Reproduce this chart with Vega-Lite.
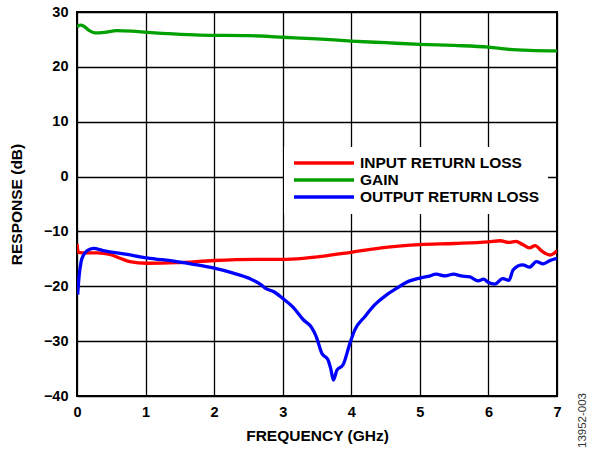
{
  "$schema": "https://vega.github.io/schema/vega-lite/v6.json",
  "width": 480,
  "height": 384,
  "autosize": "none",
  "padding": {"left": 77, "top": 12, "right": 37, "bottom": 55},
  "background": "white",
  "title": {"text": "13952-003", "orient": "right", "anchor": "end", "frame": "group", "angle": -90, "align": "right", "dx": 3, "fontSize": 11.5, "fontWeight": "normal", "font": "Liberation Sans", "color": "#333333", "offset": 4},
  "config": {
    "view": {"stroke": "black", "strokeWidth": 2},
    "font": "Liberation Sans"
  },
  "data": {"values": [
    {"f": 0.0, "s": "GAIN", "v": 27.3},
    {"f": 0.05, "s": "GAIN", "v": 27.6},
    {"f": 0.1, "s": "GAIN", "v": 27.4},
    {"f": 0.18, "s": "GAIN", "v": 26.6},
    {"f": 0.26, "s": "GAIN", "v": 26.2},
    {"f": 0.4, "s": "GAIN", "v": 26.3},
    {"f": 0.58, "s": "GAIN", "v": 26.6},
    {"f": 0.8, "s": "GAIN", "v": 26.5},
    {"f": 1.02, "s": "GAIN", "v": 26.3},
    {"f": 1.4, "s": "GAIN", "v": 26.0},
    {"f": 1.8, "s": "GAIN", "v": 25.8},
    {"f": 2.5, "s": "GAIN", "v": 25.7},
    {"f": 3.0, "s": "GAIN", "v": 25.4},
    {"f": 3.5, "s": "GAIN", "v": 25.1},
    {"f": 4.0, "s": "GAIN", "v": 24.7},
    {"f": 4.5, "s": "GAIN", "v": 24.4},
    {"f": 5.0, "s": "GAIN", "v": 24.1},
    {"f": 5.5, "s": "GAIN", "v": 23.9},
    {"f": 6.0, "s": "GAIN", "v": 23.6},
    {"f": 6.3, "s": "GAIN", "v": 23.2},
    {"f": 6.6, "s": "GAIN", "v": 23.0},
    {"f": 7.0, "s": "GAIN", "v": 22.9},

    {"f": 0.0, "s": "INPUT RETURN LOSS", "v": -12.3},
    {"f": 0.02, "s": "INPUT RETURN LOSS", "v": -13.8},
    {"f": 0.14, "s": "INPUT RETURN LOSS", "v": -13.9},
    {"f": 0.3, "s": "INPUT RETURN LOSS", "v": -13.9},
    {"f": 0.48, "s": "INPUT RETURN LOSS", "v": -14.2},
    {"f": 0.63, "s": "INPUT RETURN LOSS", "v": -14.9},
    {"f": 0.77, "s": "INPUT RETURN LOSS", "v": -15.5},
    {"f": 1.02, "s": "INPUT RETURN LOSS", "v": -15.8},
    {"f": 1.45, "s": "INPUT RETURN LOSS", "v": -15.7},
    {"f": 2.0, "s": "INPUT RETURN LOSS", "v": -15.3},
    {"f": 2.67, "s": "INPUT RETURN LOSS", "v": -15.1},
    {"f": 3.0, "s": "INPUT RETURN LOSS", "v": -15.1},
    {"f": 3.3, "s": "INPUT RETURN LOSS", "v": -14.9},
    {"f": 3.6, "s": "INPUT RETURN LOSS", "v": -14.5},
    {"f": 4.0, "s": "INPUT RETURN LOSS", "v": -13.8},
    {"f": 4.5, "s": "INPUT RETURN LOSS", "v": -12.9},
    {"f": 5.0, "s": "INPUT RETURN LOSS", "v": -12.4},
    {"f": 5.5, "s": "INPUT RETURN LOSS", "v": -12.2},
    {"f": 6.0, "s": "INPUT RETURN LOSS", "v": -11.9},
    {"f": 6.17, "s": "INPUT RETURN LOSS", "v": -11.7},
    {"f": 6.3, "s": "INPUT RETURN LOSS", "v": -12.0},
    {"f": 6.4, "s": "INPUT RETURN LOSS", "v": -11.8},
    {"f": 6.5, "s": "INPUT RETURN LOSS", "v": -12.4},
    {"f": 6.6, "s": "INPUT RETURN LOSS", "v": -13.0},
    {"f": 6.68, "s": "INPUT RETURN LOSS", "v": -12.6},
    {"f": 6.78, "s": "INPUT RETURN LOSS", "v": -13.6},
    {"f": 6.9, "s": "INPUT RETURN LOSS", "v": -14.3},
    {"f": 7.0, "s": "INPUT RETURN LOSS", "v": -13.5},

    {"f": 0.01, "s": "OUTPUT RETURN LOSS", "v": -21.5},
    {"f": 0.03, "s": "OUTPUT RETURN LOSS", "v": -18.2},
    {"f": 0.06, "s": "OUTPUT RETURN LOSS", "v": -15.5},
    {"f": 0.1, "s": "OUTPUT RETURN LOSS", "v": -14.2},
    {"f": 0.15, "s": "OUTPUT RETURN LOSS", "v": -13.5},
    {"f": 0.24, "s": "OUTPUT RETURN LOSS", "v": -13.1},
    {"f": 0.38, "s": "OUTPUT RETURN LOSS", "v": -13.5},
    {"f": 0.73, "s": "OUTPUT RETURN LOSS", "v": -14.2},
    {"f": 1.02, "s": "OUTPUT RETURN LOSS", "v": -14.8},
    {"f": 1.45, "s": "OUTPUT RETURN LOSS", "v": -15.5},
    {"f": 1.7, "s": "OUTPUT RETURN LOSS", "v": -16.0},
    {"f": 2.0, "s": "OUTPUT RETURN LOSS", "v": -16.7},
    {"f": 2.28, "s": "OUTPUT RETURN LOSS", "v": -17.6},
    {"f": 2.52, "s": "OUTPUT RETURN LOSS", "v": -18.6},
    {"f": 2.67, "s": "OUTPUT RETURN LOSS", "v": -19.6},
    {"f": 2.75, "s": "OUTPUT RETURN LOSS", "v": -20.4},
    {"f": 2.87, "s": "OUTPUT RETURN LOSS", "v": -21.0},
    {"f": 3.0, "s": "OUTPUT RETURN LOSS", "v": -22.2},
    {"f": 3.15, "s": "OUTPUT RETURN LOSS", "v": -23.8},
    {"f": 3.3, "s": "OUTPUT RETURN LOSS", "v": -26.1},
    {"f": 3.42, "s": "OUTPUT RETURN LOSS", "v": -27.5},
    {"f": 3.49, "s": "OUTPUT RETURN LOSS", "v": -29.2},
    {"f": 3.57, "s": "OUTPUT RETURN LOSS", "v": -32.2},
    {"f": 3.66, "s": "OUTPUT RETURN LOSS", "v": -33.4},
    {"f": 3.7, "s": "OUTPUT RETURN LOSS", "v": -35.0},
    {"f": 3.74, "s": "OUTPUT RETURN LOSS", "v": -37.1},
    {"f": 3.79, "s": "OUTPUT RETURN LOSS", "v": -35.3},
    {"f": 3.88, "s": "OUTPUT RETURN LOSS", "v": -34.3},
    {"f": 3.98, "s": "OUTPUT RETURN LOSS", "v": -30.4},
    {"f": 4.05, "s": "OUTPUT RETURN LOSS", "v": -28.0},
    {"f": 4.2, "s": "OUTPUT RETURN LOSS", "v": -25.5},
    {"f": 4.34, "s": "OUTPUT RETURN LOSS", "v": -23.4},
    {"f": 4.51, "s": "OUTPUT RETURN LOSS", "v": -21.6},
    {"f": 4.66, "s": "OUTPUT RETURN LOSS", "v": -20.4},
    {"f": 4.8, "s": "OUTPUT RETURN LOSS", "v": -19.3},
    {"f": 5.0, "s": "OUTPUT RETURN LOSS", "v": -18.5},
    {"f": 5.12, "s": "OUTPUT RETURN LOSS", "v": -18.2},
    {"f": 5.24, "s": "OUTPUT RETURN LOSS", "v": -17.8},
    {"f": 5.37, "s": "OUTPUT RETURN LOSS", "v": -18.1},
    {"f": 5.49, "s": "OUTPUT RETURN LOSS", "v": -17.8},
    {"f": 5.6, "s": "OUTPUT RETURN LOSS", "v": -18.1},
    {"f": 5.73, "s": "OUTPUT RETURN LOSS", "v": -18.3},
    {"f": 5.85, "s": "OUTPUT RETURN LOSS", "v": -19.0},
    {"f": 5.93, "s": "OUTPUT RETURN LOSS", "v": -18.7},
    {"f": 6.0, "s": "OUTPUT RETURN LOSS", "v": -19.3},
    {"f": 6.09, "s": "OUTPUT RETURN LOSS", "v": -19.6},
    {"f": 6.21, "s": "OUTPUT RETURN LOSS", "v": -18.6},
    {"f": 6.3, "s": "OUTPUT RETURN LOSS", "v": -18.9},
    {"f": 6.36, "s": "OUTPUT RETURN LOSS", "v": -17.0},
    {"f": 6.5, "s": "OUTPUT RETURN LOSS", "v": -16.1},
    {"f": 6.6, "s": "OUTPUT RETURN LOSS", "v": -16.5},
    {"f": 6.7, "s": "OUTPUT RETURN LOSS", "v": -15.5},
    {"f": 6.8, "s": "OUTPUT RETURN LOSS", "v": -15.9},
    {"f": 6.9, "s": "OUTPUT RETURN LOSS", "v": -15.3},
    {"f": 7.0, "s": "OUTPUT RETURN LOSS", "v": -14.9}
  ]},
  "mark": {"type": "line", "strokeWidth": 3.3, "strokeJoin": "round", "interpolate": "monotone", "clip": true},
  "encoding": {
    "x": {"field": "f", "type": "quantitative", "title": "FREQUENCY (GHz)",
      "scale": {"domain": [0, 7], "nice": false, "zero": false},
      "axis": {"values": [0,1,2,3,4,5,6,7], "grid": true, "gridColor": "black", "gridWidth": 1.3, "gridOpacity": 1, "domain": false, "ticks": false, "labelPadding": 9, "labelFontSize": 14.5, "labelFontWeight": "bold", "labelColor": "black", "titleFontSize": 15.5, "titleFontWeight": "bold", "titleColor": "black", "titlePadding": 10, "labelFlush": false}},
    "y": {"field": "v", "type": "quantitative", "title": "RESPONSE (dB)",
      "scale": {"domain": [-40, 30], "nice": false, "zero": false},
      "axis": {"values": [-40,-30,-20,-10,0,10,20,30], "grid": true, "gridColor": "black", "gridWidth": 1.3, "gridOpacity": 1, "domain": false, "ticks": false, "labelPadding": 9, "labelFontSize": 14.5, "labelFontWeight": "bold", "labelColor": "black", "titleFontSize": 15.5, "titleFontWeight": "bold", "titleColor": "black", "titlePadding": 19, "labelFlush": false}},
    "color": {"field": "s", "type": "nominal",
      "scale": {"domain": ["INPUT RETURN LOSS", "GAIN", "OUTPUT RETURN LOSS"], "range": ["#ff0000", "#00a000", "#0000ff"]},
      "legend": {"title": null, "orient": "none", "legendX": 207, "legendY": 135, "fillColor": "white", "padding": 8, "symbolType": "M-5,0H5", "symbolSize": 144, "symbolStrokeWidth": 3.5, "symbolOffset": 24, "labelFontSize": 15.5, "labelFontWeight": "bold", "labelColor": "black", "labelOffset": 28, "labelLimit": 400, "rowPadding": -3}}
  }
}
